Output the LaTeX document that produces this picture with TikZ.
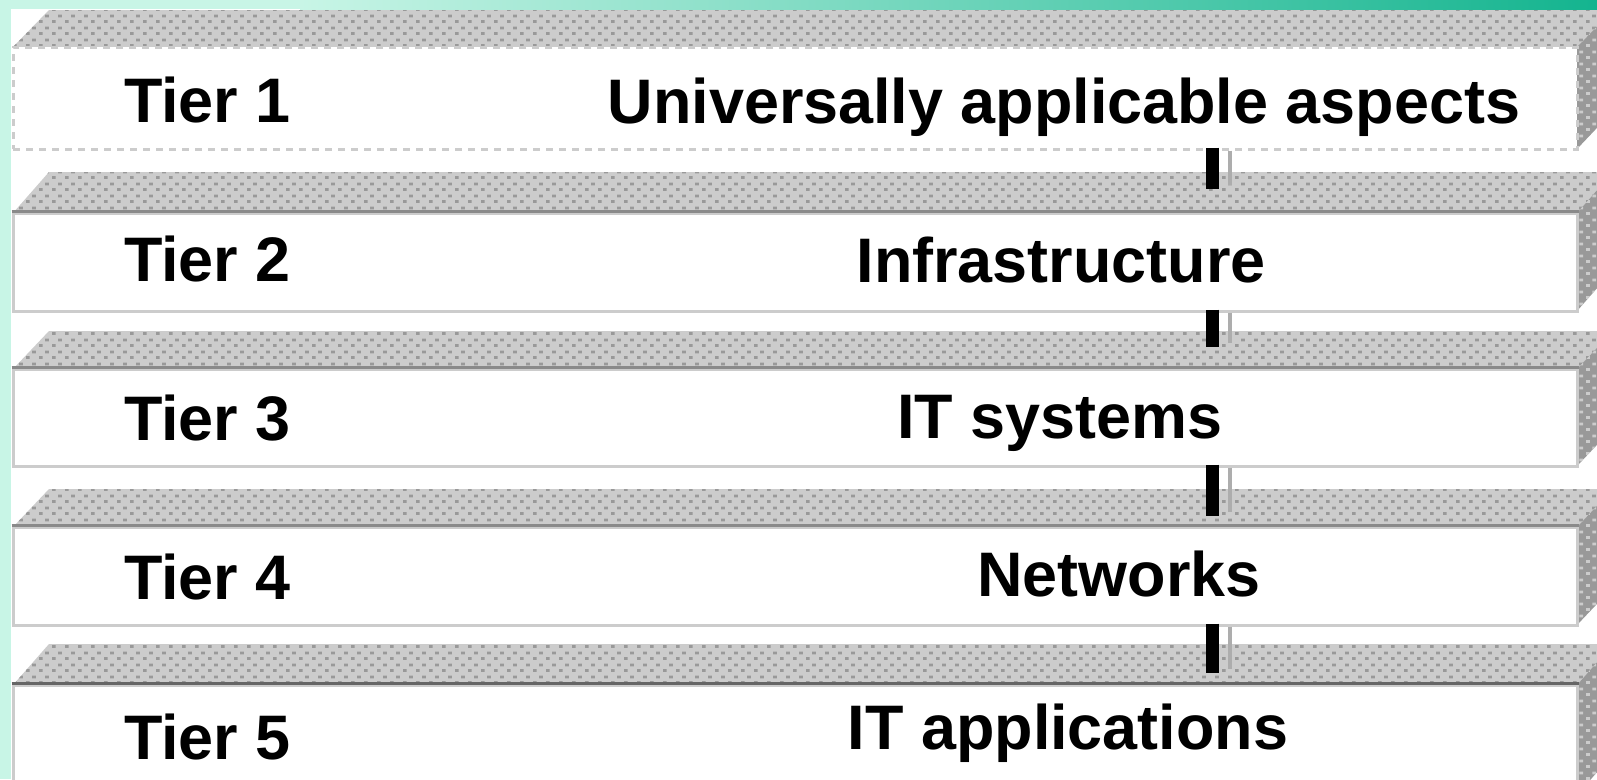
\documentclass[tikz,border=0pt]{standalone}
\usepackage{fontspec}
\setmainfont{Liberation Sans}
\usepackage{tikz}
\usetikzlibrary{positioning,patterns.meta}

\definecolor{mint}{HTML}{C8F5E6}
\definecolor{bandteal}{HTML}{14B48F}
\definecolor{facegray}{HTML}{CCCCCC}
\definecolor{dotgray}{HTML}{999999}
\definecolor{ridgegray}{HTML}{8A8A8A}

\tikzdeclarepattern{
  name=facedots,
  type=uncolored,
  bounding box={(0pt,0pt) and (13pt,12pt)},
  tile size={(13pt,12pt)},
  code={
    \fill (0pt,0pt) rectangle (4pt,3pt);
    \fill (6.5pt,6pt) rectangle (10.5pt,9pt);
  }
}

\begin{document}
\begin{tikzpicture}[x=1pt, y=-1pt,
    every node/.style={font=\fontsize{62.9}{72}\selectfont\bfseries, inner sep=0pt},
    topface/.style={fill=facegray, postaction={pattern=facedots, pattern color=dotgray}},
    sideface/.style={fill=dotgray, postaction={pattern=facedots, pattern color=facegray}},
    front/.style={draw=facegray, fill=white, line width=3pt, minimum width=1564pt},
    ridge/.style={draw=ridgegray, line width=3pt},
    post/.style={draw=black, line width=13pt},
    postside/.style={draw=facegray!85!black, line width=4pt}]
    \useasboundingbox (0,0) rectangle (1597,779);

    % Background band
    \fill[white] (0,0) rectangle (1597,779);
    \fill[mint] (0,0) rectangle (11,779);
    \fill[mint] (0,0) rectangle (300,9);
    \shade[left color=mint, right color=bandteal] (300,0) rectangle (1597,9);

    % Tier 1 slab
    \fill[topface] (13,47) -- (49,10) -- (1613,10) -- (1577,47) -- cycle;
    \fill[sideface] (1577,47) -- (1613,10) -- (1613,111) -- (1577,149) -- cycle;
    \node[front, dash pattern=on 7pt off 6pt, minimum height=102pt] (slab1) at (795,98) {};

    % Tier 2 slab
    \fill[topface] (13,213) -- (49,172) -- (1613,172) -- (1577,213) -- cycle;
    \fill[sideface] (1577,213) -- (1613,172) -- (1613,270) -- (1577,311) -- cycle;
    \node[front, minimum height=98pt] (slab2) at (795,262) {};
    \draw[ridge] (slab2.north west) -- (slab2.north east);

    % Tier 3 slab
    \fill[topface] (13,369) -- (49,331) -- (1613,331) -- (1577,369) -- cycle;
    \fill[sideface] (1577,369) -- (1613,331) -- (1613,428) -- (1577,466) -- cycle;
    \node[front, minimum height=97pt] (slab3) at (795,417.5) {};
    \draw[ridge] (slab3.north west) -- (slab3.north east);

    % Tier 4 slab
    \fill[topface] (13,527) -- (49,489) -- (1613,489) -- (1577,527) -- cycle;
    \fill[sideface] (1577,527) -- (1613,489) -- (1613,587) -- (1577,625) -- cycle;
    \node[front, minimum height=98pt] (slab4) at (795,576) {};
    \draw[ridge] (slab4.north west) -- (slab4.north east);

    % Tier 5 slab
    \fill[topface] (13,685) -- (49,644) -- (1613,644) -- (1577,685) -- cycle;
    \fill[sideface] (1577,685) -- (1613,644) -- (1613,754) -- (1577,795) -- cycle;
    \node[front, minimum height=110pt] (slab5) at (795,740) {};
    \draw[ridge, draw=black!60] (slab5.north west) -- (slab5.north east);

    % Posts between the tiers
    \coordinate (p12) at (1212.5,189);
    \coordinate (p23) at (1212.5,347);
    \coordinate (p34) at (1212.5,516);
    \coordinate (p45) at (1212.5,673);
    \draw[postside] ([xshift=17pt]slab1.south -| p12) -- ([xshift=17pt,yshift=4pt]p12);
    \draw[postside] ([xshift=17pt]slab2.south -| p23) -- ([xshift=17pt,yshift=4pt]p23);
    \draw[postside] ([xshift=17pt]slab3.south -| p34) -- ([xshift=17pt,yshift=4pt]p34);
    \draw[postside] ([xshift=17pt]slab4.south -| p45) -- ([xshift=17pt,yshift=4pt]p45);
    \draw[post] ([yshift=3pt]slab1.south -| p12) -- (p12);
    \draw[post] ([yshift=3pt]slab2.south -| p23) -- (p23);
    \draw[post] ([yshift=3pt]slab3.south -| p34) -- (p34);
    \draw[post] ([yshift=3pt]slab4.south -| p45) -- (p45);

    % Tier labels
    \node[anchor=base west] (tier1) at (124,122) {Tier 1};
    \node[anchor=base west] (tier2) at (124,281) {Tier 2};
    \node[anchor=base west] (tier3) at (124,440) {Tier 3};
    \node[anchor=base west] (tier4) at (124,599) {Tier 4};
    \node[anchor=base west] (tier5) at (124,759) {Tier 5};

    % Tier contents
    \node[anchor=base] (aspects) at (1064,123) {Universally applicable aspects};
    \node[anchor=base] (infra) at (1061,282) {Infrastructure};
    \node[anchor=base] (systems) at (1060,438) {IT systems};
    \node[anchor=base] (networks) at (1119,596) {Networks};
    \node[anchor=base] (apps) at (1068,749) {IT applications};
\end{tikzpicture}
\end{document}
